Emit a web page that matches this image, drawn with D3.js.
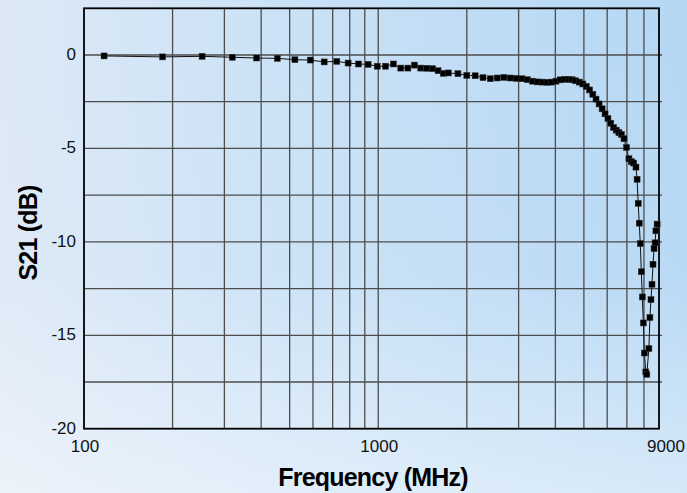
<!DOCTYPE html>
<html>
<head>
  <meta charset="utf-8">
  <title></title>
  <style>
    body { margin: 0; }
    svg { display: block; font-family: "Liberation Sans", Arial, sans-serif; }
  </style>
</head>
<body>
  <svg width="687" height="493"></svg>

  <script src="https://d3js.org/d3.v7.min.js"></script>
  <script>

  // measured points, frequency in MHz
  var freqs = [117, 185, 252, 319, 386, 454, 521, 588, 655, 723,
    790, 857, 924, 992, 1059, 1126, 1193, 1261, 1328, 1395,
    1462, 1530, 1597, 1664, 1731, 1866, 2000, 2135, 2270, 2404,
    2539, 2673, 2808, 2942, 3077, 3211, 3346, 3480, 3615, 3749,
    3884, 4018, 4153, 4287, 4422, 4556, 4691, 4825, 4960, 5094,
    5229, 5363, 5498, 5632, 5767, 5901, 6036, 6170, 6305, 6439,
    6574, 6708, 6843, 6977, 7112, 7246, 7381, 7515, 7582, 7649,
    7711, 7774, 7836, 7900, 7963, 8026, 8117, 8182, 8315, 8383,
    8451, 8520, 8589, 8659, 8729, 8785, 8870];

  var s21 = [-0.05, -0.10, -0.07, -0.12, -0.16, -0.18, -0.25, -0.27, -0.37, -0.34,
    -0.43, -0.48, -0.50, -0.60, -0.60, -0.48, -0.70, -0.70, -0.54, -0.70,
    -0.71, -0.73, -0.84, -0.98, -0.96, -1.00, -1.09, -1.11, -1.21, -1.27,
    -1.23, -1.20, -1.23, -1.25, -1.27, -1.32, -1.40, -1.44, -1.45, -1.46,
    -1.45, -1.40, -1.33, -1.30, -1.30, -1.32, -1.38, -1.45, -1.55, -1.68,
    -1.87, -2.10, -2.36, -2.62, -2.88, -3.15, -3.40, -3.65, -3.88, -4.02,
    -4.15, -4.25, -4.48, -4.95, -5.55, -5.70, -5.78, -6.00, -6.65, -7.94,
    -9.00, -10.09, -11.60, -12.95, -14.34, -15.95, -16.96, -17.09, -15.71, -14.05,
    -13.09, -12.27, -11.20, -10.36, -10.05, -9.41, -9.05];

  var xTickValues = [100, 1000, 9000];
  var xGridValues = [200, 300, 400, 500, 600, 700, 800, 900,
    1000, 2000, 3000, 4000, 5000, 6000, 7000, 8000];
  var yTickValues = [0, -5, -10, -15, -20];
  var yGridValues = [0, -2.5, -5, -7.5, -10, -12.5, -15, -17.5];

  var svg = d3.select("svg"),
      width = +svg.attr("width"),
      height = +svg.attr("height");

  var plotLeft = 84, plotRight = 659, plotTop = 8.3, plotBottom = 428.7;

  var x = d3.scaleLog().domain([100, 9000]).range([plotLeft, plotRight]);
  var y = d3.scaleLinear().domain([-20, 2.5]).range([plotBottom, plotTop]);

  // background
  var defs = svg.append("defs");
  var bgH = defs.append("linearGradient").attr("id", "bgH")
      .attr("x1", 0).attr("y1", 0).attr("x2", 1).attr("y2", 0);
  bgH.append("stop").attr("offset", "0%").attr("stop-color", "#dde9f6");
  bgH.append("stop").attr("offset", "45%").attr("stop-color", "#c9e1f6");
  bgH.append("stop").attr("offset", "100%").attr("stop-color", "#b5d7f4");
  var bgV = defs.append("linearGradient").attr("id", "bgV")
      .attr("x1", 0).attr("y1", 0).attr("x2", 0).attr("y2", 1);
  bgV.append("stop").attr("offset", "0%").attr("stop-color", "#fff").attr("stop-opacity", 0);
  bgV.append("stop").attr("offset", "55%").attr("stop-color", "#fff").attr("stop-opacity", 0.05);
  bgV.append("stop").attr("offset", "100%").attr("stop-color", "#fff").attr("stop-opacity", 0.45);

  svg.append("rect").attr("width", width).attr("height", height).attr("fill", "url(#bgH)");
  svg.append("rect").attr("width", width).attr("height", height).attr("fill", "url(#bgV)");

  // grid
  svg.append("g")
      .selectAll("line")
      .data(xGridValues)
      .join("line")
      .attr("x1", function(d) { return x(d); })
      .attr("x2", function(d) { return x(d); })
      .attr("y1", plotTop)
      .attr("y2", plotBottom)
      .attr("stroke", "#4d4d4d")
      .attr("stroke-width", 1.3);

  svg.append("g")
      .selectAll("line")
      .data(yGridValues)
      .join("line")
      .attr("x1", plotLeft)
      .attr("x2", plotRight + 3)
      .attr("y1", function(d) { return y(d); })
      .attr("y2", function(d) { return y(d); })
      .attr("stroke", "#4d4d4d")
      .attr("stroke-width", 1.3);

  // frame
  svg.append("rect")
      .attr("x", plotLeft)
      .attr("y", plotTop)
      .attr("width", plotRight - plotLeft)
      .attr("height", plotBottom - plotTop)
      .attr("fill", "none")
      .attr("stroke", "#000")
      .attr("stroke-width", 1.8);

  // tick labels
  svg.append("g")
      .selectAll("text")
      .data(yTickValues)
      .join("text")
      .attr("x", plotLeft - 8)
      .attr("y", function(d) { return y(d) + 5; })
      .attr("text-anchor", "end")
      .attr("font-size", 17)
      .attr("fill", "#111")
      .text(function(d) { return d; });

  svg.append("g")
      .selectAll("text")
      .data(xTickValues)
      .join("text")
      .attr("x", function(d) { return x(d) + (d === 9000 ? 7 : 1); })
      .attr("y", plotBottom + 23)
      .attr("text-anchor", "middle")
      .attr("font-size", 17)
      .attr("fill", "#111")
      .text(function(d) { return d; });

  // axis titles
  svg.append("text")
      .attr("x", 373)
      .attr("y", 486)
      .attr("text-anchor", "middle")
      .attr("font-size", 25)
      .attr("font-weight", "bold")
      .attr("letter-spacing", -0.8)
      .attr("fill", "#000")
      .text("Frequency (MHz)");

  svg.append("text")
      .attr("transform", "translate(37,233) rotate(-90)")
      .attr("text-anchor", "middle")
      .attr("font-size", 25)
      .attr("font-weight", "bold")
      .attr("letter-spacing", -0.8)
      .attr("fill", "#000")
      .text("S21 (dB)");

  // series
  var points = freqs.map(function(f, i) { return [f, s21[i]]; });

  var line = d3.line()
      .x(function(d) { return x(d[0]); })
      .y(function(d) { return y(d[1]); });

  svg.append("path")
      .datum(points)
      .attr("d", line)
      .attr("fill", "none")
      .attr("stroke", "#111")
      .attr("stroke-width", 1);

  svg.append("g")
      .selectAll("rect")
      .data(points)
      .join("rect")
      .attr("x", function(d) { return x(d[0]) - 3; })
      .attr("y", function(d) { return y(d[1]) - 3; })
      .attr("width", 6)
      .attr("height", 6)
      .attr("fill", "#000")
      .attr("stroke", "#333")
      .attr("stroke-width", 0.5);

  </script>
</body>
</html>
